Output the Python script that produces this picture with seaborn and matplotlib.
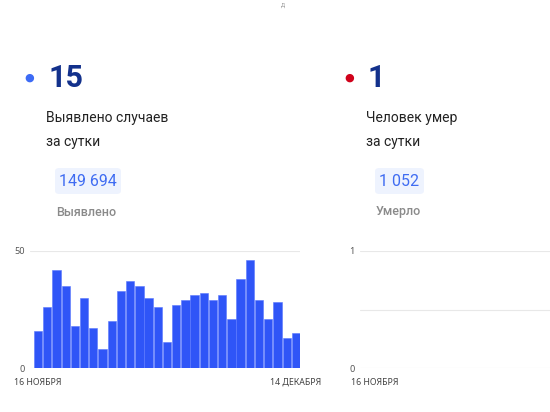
import matplotlib
matplotlib.use("Agg")
import matplotlib.pyplot as plt
import seaborn as sns
import pandas as pd
from matplotlib.patches import FancyBboxPatch

sns.set_theme(style="white")
plt.rcParams['font.family'] = ['Roboto', 'DejaVu Sans']

# ---- data ----
day_index = list(range(29))
cases = [16, 26, 42, 35, 18, 30, 17, 8, 20, 33, 37, 35, 30, 26, 11,
         27, 29, 31, 32, 29, 31, 21, 38, 46, 29, 21, 28, 13, 15]
deaths = [0] * 28 + [1]
x_labels = ["16 НОЯБРЯ", "14 ДЕКАБРЯ"]
cases_today = "15"
deaths_today = "1"
cases_total = "149 694"
deaths_total = "1 052"
cases_title = "Выявлено случаев\nза сутки"
deaths_title = "Человек умер\nза сутки"
cases_sub = "Выявлено"
deaths_sub = "Умерло"

W, H = 550, 412
fig = plt.figure(figsize=(5.5, 4.12), dpi=100)
fig.patch.set_facecolor("white")

def fx(px):
    return px / W

def fy(py):
    return 1 - py / H

BAR = "#2f55f7"
NAVY = "#13318c"
LINK = "#3f6cf2"
GRID = "#e8e8e8"
TICKFONT = ['Noto Sans', 'DejaVu Sans']

# ---- header blocks ----
def block(x0, dot_color, big, title, total, sub, box_w):
    fig.text(fx(x0 - 17), fy(78), "●", color=dot_color, fontsize=8, ha="center", va="center")
    fig.text(fx(x0 + 2), fy(78), big, color=NAVY, fontsize=22, fontweight="bold", ha="left", va="center")
    fig.text(fx(x0), fy(130), title, color="#222222", fontsize=10, ha="left", va="center",
             linespacing=1.85)
    bx = x0 + 9
    box = FancyBboxPatch((fx(bx), fy(194)), fx(box_w), fy(168) - fy(194),
                         boxstyle="round,pad=0,rounding_size=0.008",
                         transform=fig.transFigure, facecolor="#eef3fe", edgecolor="none")
    fig.add_artist(box)
    fig.text(fx(bx + box_w / 2), fy(181), total, color=LINK, fontsize=11.5, ha="center", va="center")
    fig.text(fx(bx + 1), fy(212), sub, color="#8a8a8a", fontsize=9, fontweight="medium",
             ha="left", va="center")

block(46, "#3d6bf5", cases_today, cases_title, cases_total, cases_sub, 66)
block(366, "#d0021b", deaths_today, deaths_title, deaths_total, deaths_sub, 49)

fig.text(fx(283), fy(5), "д", color="#aaaaaa", fontsize=5, ha="center", va="center")

# ---- charts ----
def chart(left_px, right_px, values, ymax, xlim_left, xlim_right, labels_ticks, mid=False):
    ax = fig.add_axes([fx(left_px), fy(368), fx(right_px - left_px), fy(251) - fy(368)])
    df = pd.DataFrame({"day": day_index, "value": values})
    sns.barplot(data=df, x="day", y="value", color=BAR, width=0.9, saturation=1,
                edgecolor="#5a78ff", linewidth=0.4, ax=ax, zorder=2)
    ax.set_ylim(0, ymax)
    ax.set_xlim(xlim_left, xlim_right)
    ax.set_yticks([0, ymax])
    ax.set_yticklabels([str(0), str(ymax)], family=TICKFONT)
    for yv in [0, ymax]:
        ax.axhline(yv, color=GRID, lw=0.8, zorder=0)
    if mid:
        ax.axhline(ymax / 2, color=GRID, lw=0.8, zorder=0)
    ax.set_xticks(labels_ticks[0])
    ax.set_xticklabels(labels_ticks[1], family=TICKFONT)
    ax.tick_params(axis="y", length=0, pad=4, labelsize=6.5, labelcolor="#555555")
    ax.tick_params(axis="x", length=0, pad=7, labelsize=6.3, labelcolor="#444444")
    for s in ax.spines.values():
        s.set_visible(False)
    ax.set_xlabel("")
    ax.set_ylabel("")
    ax.set_facecolor("none")
    return ax

chart(30, 300, cases, 50, -0.88, 28.45, ([0, 28], x_labels))
chart(360, 626, deaths, 1, -1.63, 27.3, ([0], [x_labels[0]]), mid=True)

fig.savefig("out.png", dpi=100, facecolor="white")
